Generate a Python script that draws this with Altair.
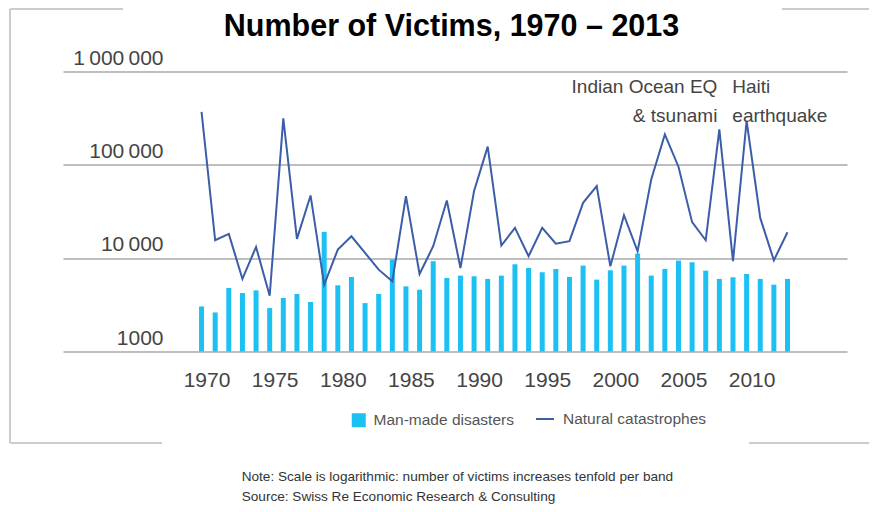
import altair as alt
import pandas as pd

# ---------------- data ----------------
years = list(range(1970, 2014))
man_made = [3040, 2620, 4790, 4230, 4520, 2920, 3740, 4130, 3390, 19150,
            5120, 6290, 3300, 4130, 9660, 4990, 4590, 9270, 6140, 6500,
            6400, 5990, 6500, 8600, 7850, 7060, 7660, 6290, 8320, 5890,
            7410, 8320, 11190, 6500, 7660, 9420, 9040, 7350, 5990, 6240,
            6770, 5990, 5200, 5990]
natural = [369000, 15560, 18200, 5990, 13200, 3960, 315000, 16100, 47000, 5200,
           12360, 17170, 11380, 7530, 5650, 46240, 6770, 13430, 41500, 7850,
           52400, 156700, 13640, 21130, 10480, 21130, 14320, 15200, 39200, 59100,
           8180, 28900, 11860, 69800, 212000, 95500, 24300, 15560, 240000, 9270,
           295000, 27000, 9480, 18970]
series_names = ["Man-made disasters", "Natural catastrophes"]
y_tick_values = [1000, 10000, 100000, 1000000]
y_tick_labels = ["1000", "10\u2009000", "100\u2009000", "1\u2009000\u2009000"]
x_tick_values = list(range(1970, 2011, 5))
annot_left = ["Indian Ocean EQ", "& tsunami"]
annot_left_year = [2004]
annot_right = ["Haiti", "earthquake"]
annot_right_year = [2010]
title_text = "Number of Victims, 1970 \u2013 2013"
notes = ["Note: Scale is logarithmic: number of victims increases tenfold per band",
         "Source: Swiss Re Economic Research & Consulting"]

# ---------------- styling ----------------
W, H = 784, 280
BAR_COLOR = "#1DC0F2"
LINE_COLOR = "#3C5DA8"
TEXT = "#444444"
FRAME = "#cccccc"
FONT = "Liberation Sans"

df = pd.DataFrame({"year": years, "man": man_made, "nat": natural,
                   "s1": series_names[0], "s2": series_names[1]})

label_expr = " : ".join(
    f"datum.value == {v} ? '{t}'" for v, t in zip(y_tick_values, y_tick_labels)
) + " : ''"

xs = alt.Scale(domain=[1960.2, 2017.0], nice=False, zero=False)
y_scale = alt.Scale(type="log", domain=[1000, 1000000], nice=False)

base = alt.Chart(df)

bars = base.mark_bar(size=5).encode(
    x=alt.X("year:Q", scale=xs,
            axis=alt.Axis(values=x_tick_values, format="d", grid=False, domain=False,
                          ticks=False, tickSize=0, labelFont=FONT, labelFontSize=21,
                          labelColor=TEXT, labelPadding=18, labelOffset=5,
                          labelFlush=False, labelOverlap=False),
            title=None),
    y=alt.Y("man:Q", scale=y_scale,
            axis=alt.Axis(values=y_tick_values, labelExpr=label_expr, grid=True,
                          gridColor="#a8a8a8", gridWidth=1.6, domain=False, ticks=False,
                          tickSize=0, labelPadding=-100, labelAlign="right",
                          labelBaseline="alphabetic", labelOffset=-7.5,
                          labelFont=FONT, labelFontSize=21, labelColor=TEXT,
                          labelFlush=False, labelOverlap=False, labelBound=False),
            title=None),
    y2=alt.datum(1000),
    fill=alt.Fill("s1:N", scale=alt.Scale(domain=[series_names[0]], range=[BAR_COLOR]),
                  legend=alt.Legend(orient="none", legendX=288, legendY=341, title=None,
                                    symbolType="square", symbolSize=196,
                                    symbolStrokeWidth=0, labelOffset=7,
                                    labelFont=FONT, labelFontSize=15.5,
                                    labelColor="#555555")),
)

line = base.mark_line(strokeWidth=2).encode(
    x=alt.X("year:Q", scale=xs, title=None),
    y=alt.Y("nat:Q", scale=y_scale, title=None),
    stroke=alt.Stroke("s2:N", scale=alt.Scale(domain=[series_names[1]], range=[LINE_COLOR]),
                      legend=alt.Legend(orient="none", legendX=472, legendY=337.5, title=None,
                                        symbolType="stroke", symbolSize=324,
                                        symbolStrokeWidth=2, labelOffset=8,
                                        labelFont=FONT, labelFontSize=15.5,
                                        labelColor="#555555")),
)

ann1 = alt.Chart(pd.DataFrame({"year": annot_left_year, "t": [annot_left]})).mark_text(
    align="right", baseline="alphabetic", dx=52.5, lineHeight=28.5,
    font=FONT, fontSize=19, color=TEXT
).encode(x=alt.X("year:Q", scale=xs, title=None), y=alt.value(21.5), text="t")

ann2 = alt.Chart(pd.DataFrame({"year": annot_right_year, "t": [annot_right]})).mark_text(
    align="left", baseline="alphabetic", dx=-14.3, lineHeight=28.5,
    font=FONT, fontSize=19, color=TEXT
).encode(x=alt.X("year:Q", scale=xs, title=None), y=alt.value(21.5), text="t")

title_layer = alt.Chart(pd.DataFrame({"t": [title_text]})).mark_text(
    align="center", baseline="alphabetic", font=FONT, fontSize=30.5,
    fontWeight="bold", color="#000000"
).encode(x=alt.value(W / 2 - 3.5), y=alt.value(-35.5), text="t")

note_layers = []
for i, n in enumerate(notes):
    note_layers.append(
        alt.Chart(pd.DataFrame({"t": [n]})).mark_text(
            align="left", baseline="alphabetic", font=FONT, fontSize=13.6,
            color="#333333"
        ).encode(x=alt.value(178.7), y=alt.value(409.5 + 20 * i), text="t")
    )

one = pd.DataFrame({"a": [0]})
def hrule(x1, x2, yv):
    return alt.Chart(one).mark_rule(color=FRAME, strokeWidth=2).encode(
        x=alt.value(x1), x2=alt.value(x2), y=alt.value(yv))
def vrule(xv, y1, y2):
    return alt.Chart(one).mark_rule(color=FRAME, strokeWidth=2).encode(
        x=alt.value(xv), y=alt.value(y1), y2=alt.value(y2))

frame = [hrule(-53, 60, -62.5), hrule(719, 820, -62.5), vrule(-53, -62.5, 371.5),
         hrule(-53, 99, 371.5), hrule(686, 820, 371.5)]

chart = alt.layer(bars, line, ann1, ann2, title_layer, *note_layers, *frame).properties(
    width=W, height=H,
    autosize=alt.AutoSizeParams(type="none"),
    padding={"left": 55, "top": 63.5, "right": 22, "bottom": 152.5},
).resolve_scale(fill="independent", stroke="independent").configure_view(stroke=None)

chart.save("out.html", embed_options={"renderer": "svg", "actions": False})
